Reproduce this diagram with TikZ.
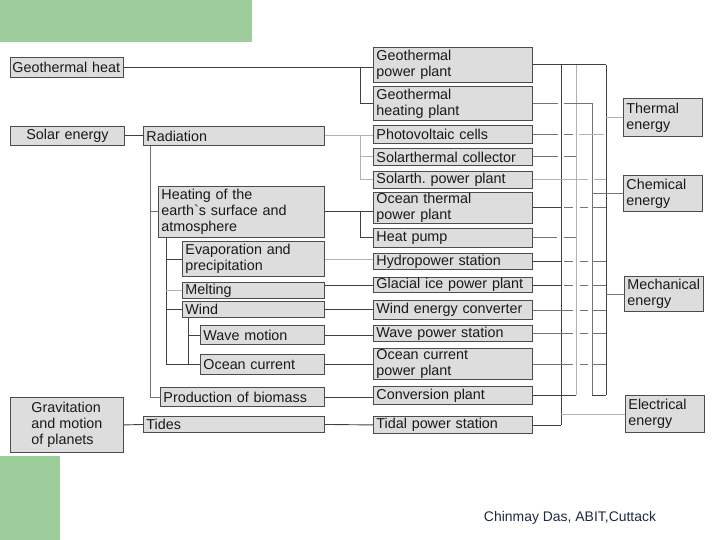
\documentclass[tikz,border=0pt]{standalone}
\usepackage{fontspec}
\setmainfont{Liberation Sans}
\usepackage{tikz}
\hyphenpenalty=10000
\exhyphenpenalty=10000
\definecolor{boxfill}{RGB}{221,221,221}
\definecolor{greenbar}{RGB}{156,205,154}
\definecolor{creditcol}{RGB}{30,42,58}
\tikzset{
  ebox/.style={draw=black!70,fill=boxfill,line width=0.9bp,anchor=north west,
    inner xsep=3bp,inner ysep=0bp,align=left,text=black!90,
    font=\fontsize{14.4}{16}\selectfont},
  link/.style={draw=black!75,line width=0.9bp},
  mlink/.style={draw=black!55,line width=0.9bp},
  glink/.style={draw=black!30,line width=0.9bp}
}

\begin{document}
\begin{tikzpicture}[x=1bp,y=-1bp]
\useasboundingbox (0,0) rectangle (720,540);
\fill[greenbar] (0,0) rectangle (252,42);
\fill[greenbar] (0,456) rectangle (60,540);

\node[ebox,inner xsep=2bp,text width=109bp,minimum height=20bp] (geoheat) at (10,57) {Geothermal heat};
\node[ebox,text width=108bp,minimum height=19bp,align=center] (solar) at (10,126) {Solar energy};
\node[ebox,text width=175bp,minimum height=19bp] (rad) at (143,126) {Radiation};
\node[ebox,text width=160bp,minimum height=51bp] (heat) at (158,186) {Heating of the\\earth\textasciigrave s surface and\\atmosphere};
\node[ebox,text width=136bp,minimum height=35bp] (evap) at (182,241) {Evaporation and\\precipitation};
\node[ebox,text width=136bp,minimum height=16bp] (melt) at (182,282) {Melting};
\node[ebox,text width=136bp,minimum height=16bp] (wind) at (182,301) {Wind};
\node[ebox,text width=118bp,minimum height=19bp] (wavem) at (200,325) {Wave motion};
\node[ebox,text width=118bp,minimum height=20bp] (oceanc) at (200,354) {Ocean current};
\node[ebox,text width=158bp,minimum height=19bp] (biomass) at (160,387) {Production of biomass};
\node[ebox,minimum width=113bp,minimum height=55bp] (grav) at (10,397) {Gravitation\\and motion\\of planets};
\node[ebox,text width=175bp,minimum height=16bp] (tides) at (143,416) {Tides};

\node[ebox,text width=153bp,minimum height=35bp] (gpp) at (373,47) {Geothermal\\power plant};
\node[ebox,text width=153bp,minimum height=34bp] (ghp) at (373,86) {Geothermal\\heating plant};
\node[ebox,text width=153bp,minimum height=18bp] (pv) at (373,125) {Photovoltaic cells};
\node[ebox,text width=153bp,minimum height=17bp] (stc) at (373,148) {Solarthermal collector};
\node[ebox,text width=153bp,minimum height=17bp] (spp) at (373,171) {Solarth.\ power plant};
\node[ebox,text width=153bp,minimum height=31bp] (otpp) at (373,192) {Ocean thermal\\power plant};
\node[ebox,text width=153bp,minimum height=19bp] (hp) at (373,228) {Heat pump};
\node[ebox,text width=153bp,minimum height=16bp] (hydro) at (373,253) {Hydropower station};
\node[ebox,text width=153bp,minimum height=15bp] (glacial) at (373,277) {Glacial ice power plant};
\node[ebox,text width=153bp,minimum height=19bp] (windconv) at (373,300) {Wind energy converter};
\node[ebox,text width=153bp,minimum height=16bp] (wavest) at (373,325) {Wave power station};
\node[ebox,text width=153bp,minimum height=31bp] (ocpp) at (373,348) {Ocean current\\power plant};
\node[ebox,text width=153bp,minimum height=18bp] (conv) at (373,386) {Conversion plant};
\node[ebox,text width=153bp,minimum height=17bp] (tidal) at (373,416) {Tidal power station};

\node[ebox,text width=73bp,minimum height=38bp] (thermal) at (623,98) {Thermal\\energy};
\node[ebox,text width=73bp,minimum height=36bp] (chem) at (623,175) {Chemical\\energy};
\node[ebox,text width=73bp,minimum height=35bp] (mech) at (624,276) {Mechanical\\energy};
\node[ebox,text width=73bp,minimum height=37bp] (elec) at (625,395) {Electrical\\energy};

\node[font=\fontsize{14}{16}\selectfont,text=creditcol] (credit) at (570,518) {Chinmay Das, ABIT,Cuttack};

\coordinate (gj) at (360,0);
\coordinate (rj) at (150,0);
\coordinate (hj) at (166,0);
\coordinate (wj) at (188,0);
\coordinate (eb) at (561,0);
\coordinate (tb) at (576,0);
\coordinate (cb) at (592,0);
\coordinate (mb) at (606,0);

\draw[link] (geoheat.east) -- (geoheat.east -| gpp.west);
\draw[link] (geoheat.east -| gj) |- (ghp.west);
\draw[link] (solar) -- (rad);
\draw[glink] (rad.east) -- (rad.east -| pv.west);
\draw[glink] (rad.east -| gj) |- (stc.west);
\draw[glink] (rad.east -| gj) |- (spp.west);
\draw[mlink] (rad.south -| rj) |- (biomass.west);
\draw[mlink] (heat.west -| rj) -- (heat.west);
\draw[link] (heat.south -| hj) |- (oceanc.west);
\draw[link] (evap.west -| hj) -- (evap.west);
\draw[glink] (melt.west -| hj) -- (melt.west);
\draw[link] (wind.west -| hj) -- (wind.west);
\draw[link] (wind.south -| wj) |- (oceanc.west);
\draw[link] (wavem.west -| wj) -- (wavem.west);
\draw[link] (heat.east) -- (heat.east -| otpp.west);
\draw[link] (heat.east -| gj) |- (hp.west);
\draw[glink] (evap.east) -- (evap.east -| hydro.west);
\draw[link] (melt.east |- glacial.west) -- (glacial.west);
\draw[link] (wind.east) -- (wind.east -| windconv.west);
\draw[link] (wavem.east) -- (wavem.east -| wavest.west);
\draw[link] (oceanc.east) -- (oceanc.east -| ocpp.west);
\draw[link] (biomass.east) -- (biomass.east -| conv.west);
\draw[link] (grav.east) -- (tides.west);
\draw[link] (tides.east) -- (tidal.west);

\draw[link] (gpp.east -| eb) -- (tidal.east -| eb);
\draw[glink] (gpp.east -| tb) -- (conv.east -| tb);
\draw[mlink] (ghp.east -| cb) -- (conv.east -| cb);
\draw[link] (gpp.east -| mb) -- (conv.east -| mb);

\draw[link] (gpp.east) -- (gpp.east -| mb);
\draw[mlink] (ghp.east) -- ([xshift=-3bp]ghp.east -| eb);
\draw[mlink] ([xshift=3bp]ghp.east -| eb) -- (ghp.east -| cb);
\draw[mlink] (pv.east) -- ([xshift=-3bp]pv.east -| eb);
\draw[mlink] ([xshift=3bp]pv.east -| eb) -- ([xshift=-3bp]pv.east -| tb);
\draw[glink] ([xshift=3bp]pv.east -| tb) -- ([xshift=-2bp]pv.east -| mb);
\draw[mlink] (stc.east) -- ([xshift=-3bp]stc.east -| eb);
\draw[mlink] ([xshift=3bp]stc.east -| eb) -- (stc.east -| tb);
\draw[glink] (spp.east) -- ([xshift=-4bp]spp.east -| cb);
\draw[glink] ([xshift=2bp]spp.east -| cb) -- (spp.east -| mb);
\draw[mlink] (hp.east) -- ([xshift=-4bp]hp.east -| eb);
\draw[mlink] ([xshift=3bp]hp.east -| eb) -- (hp.east -| tb);
\foreach \n in {otpp,hydro,glacial}{
  \draw[link] (\n.east) -- (\n.east -| eb);
  \draw[mlink] ([xshift=3bp]\n.east -| eb) -- ([xshift=-3bp]\n.east -| tb);
  \draw[mlink] ([xshift=4bp]\n.east -| tb) -- ([xshift=-4bp]\n.east -| cb);
  \draw[mlink] ([xshift=1bp]\n.east -| cb) -- (\n.east -| mb);
}
\foreach \n in {windconv,wavest,ocpp}{
  \draw[mlink] (\n.east) -- ([xshift=-3bp]\n.east -| tb);
  \draw[mlink] ([xshift=4bp]\n.east -| tb) -- ([xshift=-4bp]\n.east -| cb);
  \draw[mlink] ([xshift=1bp]\n.east -| cb) -- (\n.east -| mb);
}
\draw[link] (conv.east) -- (conv.east -| tb);
\draw[link] (conv.east -| cb) -- (conv.east -| mb);
\draw[link] (tidal.east) -- (tidal.east -| eb);

\draw[glink] (thermal.west -| mb) -- (thermal.west);
\draw[mlink] (chem.west -| cb) -- (chem.west);
\draw[mlink] (mech.west -| mb) -- (mech.west);
\draw[glink] (elec.west -| eb) -- (elec.west);
\end{tikzpicture}
\end{document}
